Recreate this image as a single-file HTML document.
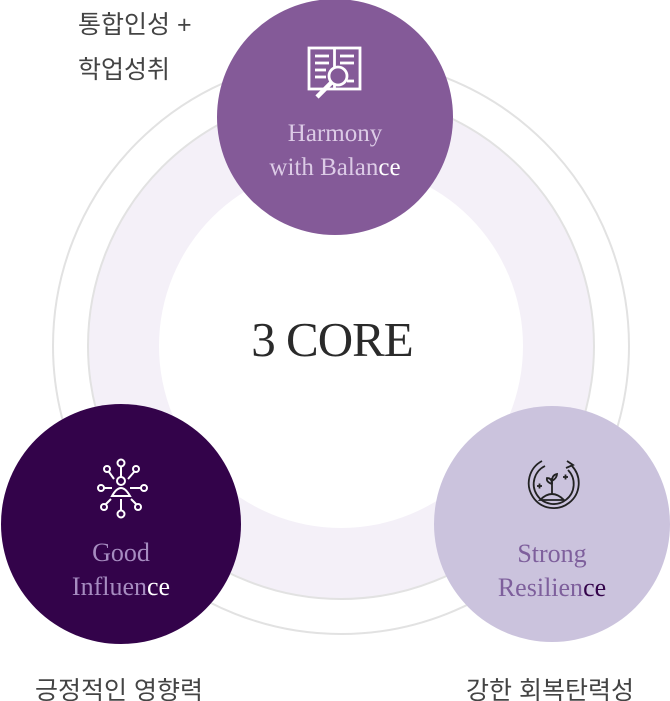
<!DOCTYPE html>
<html><head><meta charset="utf-8"><style>
html,body{margin:0;padding:0;background:#fff;width:670px;height:701px;overflow:hidden;position:relative}
.ko{position:absolute;font-family:"Liberation Sans","Noto Sans CJK KR",sans-serif;font-size:25px;color:#444;white-space:nowrap}
.ser{font-family:"Liberation Serif",serif}
</style></head><body>
<svg width="670" height="701" style="position:absolute;left:0;top:0">
<circle cx="341" cy="346" r="288" fill="none" stroke="#e2e2e2" stroke-width="2"/>
<circle cx="341" cy="346" r="253" fill="#f4f0f8" stroke="#e2e2e2" stroke-width="2"/>
<circle cx="341" cy="346" r="182" fill="#fff"/>
<circle cx="335" cy="117" r="118" fill="#845a98"/>
<circle cx="121" cy="524" r="120" fill="#33034a"/>
<circle cx="552" cy="524" r="118" fill="#cbc3dd"/>
<g fill="none" stroke="#fff" stroke-width="2.8">
<rect x="309" y="48" width="51" height="41"/>
<line x1="334.5" y1="48" x2="334.5" y2="89"/>
<line x1="315" y1="56" x2="329" y2="56"/><line x1="315" y1="63" x2="329" y2="63"/><line x1="315" y1="70" x2="326" y2="70"/><line x1="315" y1="77" x2="326" y2="77"/>
<line x1="340" y1="56" x2="354" y2="56"/><line x1="340" y1="63" x2="354" y2="63"/><line x1="347" y1="81" x2="354" y2="81"/>
<circle cx="338" cy="76" r="9" fill="#845a98"/>
<line x1="331" y1="83" x2="317" y2="97" stroke-width="4.5"/>
</g>
<g fill="none" stroke="#fff" stroke-width="2">
<circle cx="121" cy="481" r="4"/><circle cx="121" cy="463" r="3.5"/><circle cx="121" cy="514" r="3.5"/>
<circle cx="107" cy="469" r="3"/><circle cx="136" cy="469" r="3"/><circle cx="104" cy="507" r="3"/><circle cx="138" cy="507" r="3"/>
<circle cx="101" cy="488" r="3"/><circle cx="144" cy="488" r="3"/>
<path d="M112 496 Q121 480 130 496 Z"/>
<line x1="121" y1="467" x2="121" y2="477"/><line x1="121" y1="499" x2="121" y2="510"/>
<line x1="104" y1="488" x2="112" y2="488"/><line x1="130" y1="488" x2="141" y2="488"/>
<line x1="109" y1="472" x2="114" y2="479"/><line x1="134" y1="472" x2="128" y2="479"/>
<line x1="106" y1="504" x2="111" y2="499"/><line x1="136" y1="504" x2="131" y2="499"/>
</g>
<g fill="none" stroke="#222" stroke-width="1.8">
<path d="M542 461 A25 25 0 1 0 572 466"/>
<path d="M545 466 A20 20 0 1 0 568 470"/>
<path d="M567 461 l6 4 l-7 3"/>
<path d="M540 500 q12 -12 24 0 z"/>
<line x1="552" y1="494" x2="552" y2="478"/>
<path d="M552 484 q-6 -2 -5 -6 q5 0 5 6 M552 481 q5 -3 5 -7 q-5 1 -5 7"/>
<line x1="537" y1="486" x2="542" y2="486"/><line x1="539.5" y1="483.5" x2="539.5" y2="488.5"/>
<line x1="563" y1="477" x2="568" y2="477"/><line x1="565.5" y1="474.5" x2="565.5" y2="479.5"/>
</g>
</svg>
<div class="ser" style="position:absolute;left:235px;top:117px;width:200px;text-align:center;font-size:25px;line-height:34px;color:#dccbe6">Harmony<br>with Balan<span style="color:#fff">ce</span></div>
<div class="ser" style="position:absolute;left:21px;top:536px;width:200px;text-align:center;font-size:26px;line-height:34px;color:#a68cc0">Good<br>Influen<span style="color:#fff">ce</span></div>
<div class="ser" style="position:absolute;left:452px;top:537px;width:200px;text-align:center;font-size:26px;line-height:34px;color:#7e5f9c">Strong<br>Resilien<span style="color:#33034a">ce</span></div>
<div class="ser" style="position:absolute;left:182px;top:312px;width:300px;text-align:center;font-size:49px;line-height:56px;color:#2a2a2a;letter-spacing:-1px">3 CORE</div>
<div class="ko" style="left:78px;top:5px">통합인성 +</div>
<div class="ko" style="left:78px;top:50px">학업성취</div>
<div class="ko" style="left:35px;top:671px">긍정적인 영향력</div>
<div class="ko" style="left:466px;top:671px">강한 회복탄력성</div>
</body></html>
